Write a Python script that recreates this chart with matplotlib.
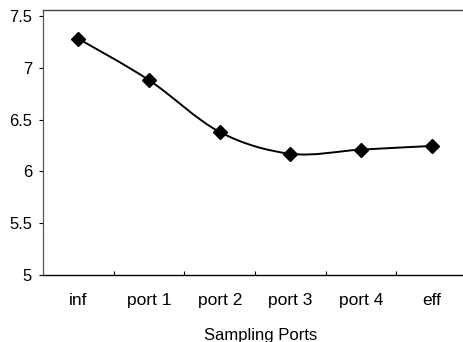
import numpy as np
import matplotlib
matplotlib.use("Agg")
import matplotlib.pyplot as plt
from matplotlib.path import Path
from matplotlib.patches import PathPatch

categories = ["inf", "port 1", "port 2", "port 3", "port 4", "eff"]
values = [7.28, 6.88, 6.38, 6.17, 6.21, 6.245]
yticks = [5, 5.5, 6, 6.5, 7, 7.5]
ytick_labels = ["5", "5.5", "6", "6.5", "7", "7.5"]
xlabel = "Sampling Ports"

plt.rcParams['font.family'] = ['Liberation Sans', 'DejaVu Sans']

fig = plt.figure(figsize=(4.64, 3.42), dpi=100)
ax = fig.add_axes([0.0927, 0.196, 0.914, 0.775])

x = np.arange(len(categories), dtype=float)
y = np.array(values, dtype=float)

# smoothed line (Catmull-Rom style Bezier, like spreadsheet "smoothed line")
verts = [(x[0], y[0])]
codes = [Path.MOVETO]
n = len(x)
t = 1.0 / 6.0
for i in range(n - 1):
    p0 = (x[i - 1], y[i - 1]) if i > 0 else (x[i], y[i])
    p1 = (x[i], y[i])
    p2 = (x[i + 1], y[i + 1])
    p3 = (x[i + 2], y[i + 2]) if i + 2 < n else (x[i + 1], y[i + 1])
    c1 = (p1[0] + (p2[0] - p0[0]) * t, p1[1] + (p2[1] - p0[1]) * t)
    c2 = (p2[0] - (p3[0] - p1[0]) * t, p2[1] - (p3[1] - p1[1]) * t)
    verts += [c1, c2, p2]
    codes += [Path.CURVE4, Path.CURVE4, Path.CURVE4]
ax.add_patch(PathPatch(Path(verts, codes), facecolor='none', edgecolor='black', lw=1.4, zorder=2))
ax.plot(x, y, linestyle='none', marker='D', markersize=6.8, color='black', zorder=3)

ax.set_xlim(-0.5, len(categories) - 0.5)
ax.set_ylim(5, 7.558)
ax.set_yticks(yticks)
ax.set_yticklabels(ytick_labels)
ax.set_xticks(x)
ax.set_xticklabels(categories)
ax.set_xticks(np.arange(0.5, len(categories) - 0.5, 1.0), minor=True)
ax.tick_params(axis='x', which='major', length=0, pad=13, labelsize=12.5)
ax.tick_params(axis='x', which='minor', direction='in', length=3, width=0.8)
ax.tick_params(axis='y', which='major', direction='out', length=3, width=0.8, pad=5, labelsize=12)

ax.spines['right'].set_visible(False)
ax.spines['top'].set_color('#444444')
ax.spines['top'].set_linewidth(1.0)
ax.spines['left'].set_color('#555555')
ax.spines['left'].set_linewidth(0.9)
ax.spines['bottom'].set_color('black')
ax.spines['bottom'].set_linewidth(1.0)

ax.set_xlabel(xlabel, fontsize=12)
ax.xaxis.set_label_coords((261 - 43) / 424.0, -0.2)

fig.savefig("out.png", dpi=100)
